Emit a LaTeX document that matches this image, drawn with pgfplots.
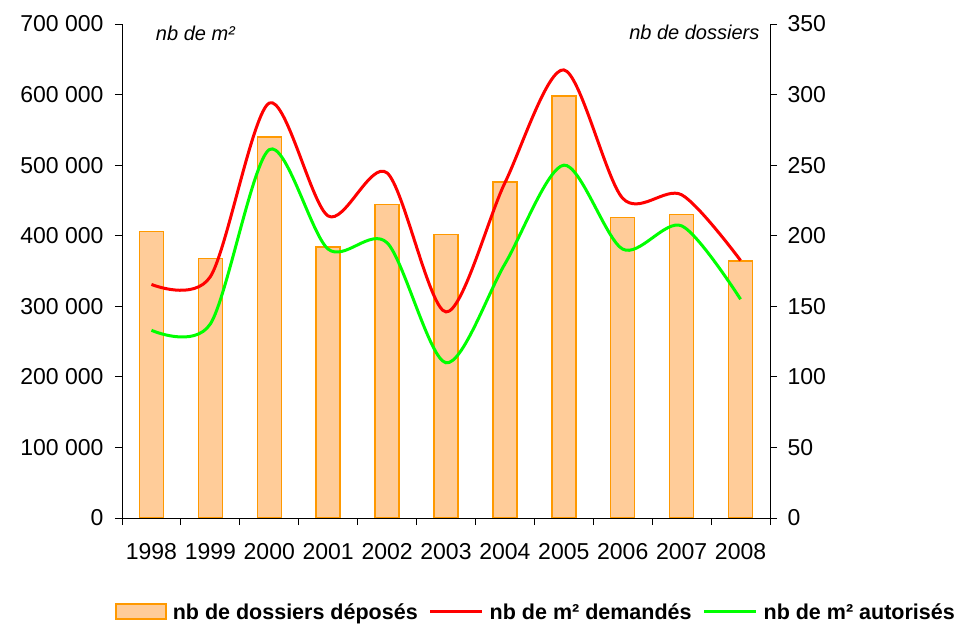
\documentclass[border=0pt]{standalone}
\usepackage{pgfplots}
\usepackage{pgfplotstable}
\pgfplotsset{compat=1.18}
\usepackage{fontspec}
\setmainfont{Liberation Sans}
\definecolor{barfill}{HTML}{FFCC99}
\definecolor{baredge}{HTML}{FF9900}
\definecolor{lred}{HTML}{FF0000}
\definecolor{lgreen}{HTML}{00FF00}

\pgfplotstableread{
x dossiers demandes autorises
0 203 331000 266000
1 184 342000 275000
2 270 588000 522000
3 192 428000 381000
4 222 489000 390000
5 201 292000 220000
6 238 475000 360000
7 299 635000 500000
8 213 453000 381000
9 215 458000 414000
10 182 365000 310000
}\datatable

\begin{document}
\begin{tikzpicture}[x=1pt,y=1pt]
\useasboundingbox (-122,-107) rectangle (835,518);
\begin{axis}[
 scale only axis, width=648pt, height=494pt,
 xmin=-0.5, xmax=10.5, ymin=0, ymax=350,
 axis x line=none, axis y line*=right,
 axis line style={-, black, line width=0.9pt},
 tick align=outside, major tick length=7pt,
 tick style={black, line width=0.9pt},
 ytick={0,50,...,350},
 yticklabels={0,50,100,150,200,250,300,350},
 yticklabel style={font=\fontsize{23}{27}\selectfont, xshift=7pt},
 ybar, bar width=24pt,
]
\addplot[fill=barfill, draw=baredge, line width=1.4pt] table[x=x,y=dossiers]{\datatable};
\end{axis}
\begin{axis}[
 scale only axis, width=648pt, height=494pt,
 xmin=-0.5, xmax=10.5, ymin=0, ymax=700000,
 axis x line*=bottom, axis y line*=left,
 axis line style={-, black, line width=0.9pt},
 tick align=outside, major tick length=7pt,
 tick style={black, line width=0.9pt},
 xtick={-0.5,0.5,...,10.5}, xticklabels={},
 extra x ticks={0,1,2,3,4,5,6,7,8,9,10},
 extra x tick labels={1998,1999,2000,2001,2002,2003,2004,2005,2006,2007,2008},
 extra x tick style={major tick length=0pt},
 xticklabel style={font=\fontsize{23}{27}\selectfont, yshift=-22pt},
 ytick={0,100000,200000,300000,400000,500000,600000,700000},
 yticklabels={0,100 000,200 000,300 000,400 000,500 000,600 000,700 000},
 scaled y ticks=false,
 yticklabel style={font=\fontsize{23}{27}\selectfont, xshift=-8pt},
 legend columns=3,
 legend style={at={(rel axis cs:0.639,-0.19)}, anchor=center, draw=none,
   font=\bfseries\fontsize{21.5}{25}\selectfont,
   /tikz/every odd column/.append style={column sep=4pt},
   /tikz/every even column/.append style={column sep=9pt}},
]
\addlegendimage{legend image code/.code={\draw[fill=barfill,draw=baredge,line width=1.4pt] (0pt,-7pt) rectangle (50pt,8pt);}}
\addlegendentry{nb de dossiers déposés}
\addplot[lred, line width=3pt, smooth,
  legend image code/.code={\draw[lred,line width=3pt] (0pt,0pt) -- (52pt,0pt);}]
  table[x=x,y=demandes]{\datatable};
\addlegendentry{nb de m² demandés}
\addplot[lgreen, line width=3pt, smooth,
  legend image code/.code={\draw[lgreen,line width=3pt] (0pt,0pt) -- (52pt,0pt);}]
  table[x=x,y=autorises]{\datatable};
\addlegendentry{nb de m² autorisés}
\node[anchor=west, font=\itshape\fontsize{20}{23}\selectfont] at (rel axis cs:0.047,0.982) {nb de m²};
\node[anchor=east, font=\itshape\fontsize{20}{23}\selectfont] at (rel axis cs:0.989,0.984) {nb de dossiers};
\end{axis}
\end{tikzpicture}
\end{document}
